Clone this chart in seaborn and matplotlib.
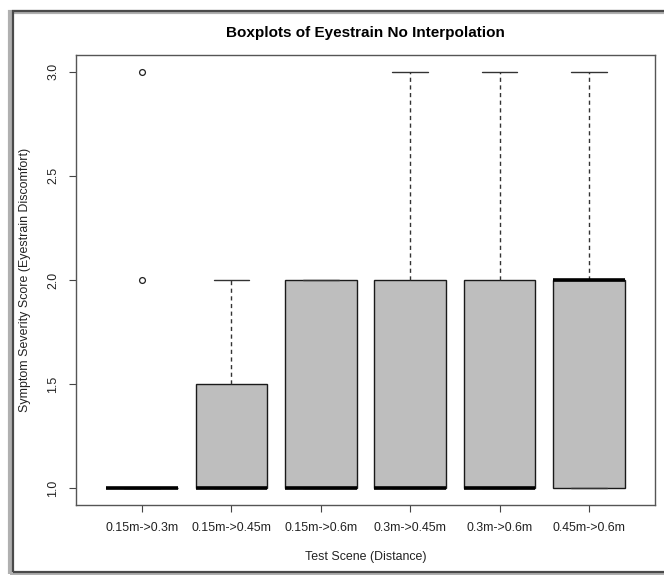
import matplotlib
matplotlib.use("Agg")
import matplotlib.pyplot as plt
from matplotlib.patches import Rectangle
import pandas as pd
import seaborn as sns

# Eyestrain symptom scores per test scene (distance change)
scenes = ["0.15m->0.3m", "0.15m->0.45m", "0.15m->0.6m",
          "0.3m->0.45m", "0.3m->0.6m", "0.45m->0.6m"]
scores_015_03 = [1, 1, 1, 1, 1, 1, 1, 1, 1, 1, 1, 1, 1, 2, 3]
scores_015_045 = [1, 1, 1, 1, 1, 1, 1, 1, 1, 1, 1, 2, 2, 2, 2]
scores_015_06 = [1, 1, 1, 1, 1, 1, 1, 1, 1, 2, 2, 2, 2, 2, 2]
scores_03_045 = [1, 1, 1, 1, 1, 1, 1, 1, 1, 2, 2, 2, 2, 2, 3]
scores_03_06 = [1, 1, 1, 1, 1, 1, 1, 1, 2, 2, 2, 2, 2, 3, 3]
scores_045_06 = [1, 1, 1, 1, 1, 1, 2, 2, 2, 2, 2, 2, 2, 3, 3]
y_ticks = [1.0, 1.5, 2.0, 2.5, 3.0]

groups = [scores_015_03, scores_015_045, scores_015_06,
          scores_03_045, scores_03_06, scores_045_06]
df = pd.DataFrame({
    "scene": [s for s, g in zip(scenes, groups) for _ in g],
    "score": [v for g in groups for v in g],
})

sns.set_style("white")
plt.rcParams["font.family"] = ["Liberation Sans", "DejaVu Sans"]

W, H = 664, 575
fig = plt.figure(figsize=(W / 100, H / 100), dpi=100)
fig.patch.set_facecolor("white")
ax = fig.add_axes([76 / W, 70 / H, 579 / W, 450 / H])

sns.boxplot(
    data=df, x="scene", y="score", order=scenes, ax=ax,
    color="#BEBEBE", linecolor="#1a1a1a", linewidth=1.0, width=0.8,
    whis=1.5, saturation=1,
    medianprops=dict(color="black", linewidth=2.6, solid_capstyle="butt"),
    whiskerprops=dict(linestyle=(0, (3, 2.5)), color="#333333", linewidth=1.0),
    capprops=dict(color="#333333", linewidth=1.0),
    flierprops=dict(marker="o", markerfacecolor="none",
                    markeredgecolor="#222222", markersize=4.2,
                    markeredgewidth=0.9),
)

ax.set_xlim(0.26 - 1, 6.74 - 1)
ax.set_ylim(0.92, 3.08)

ax.set_yticks(y_ticks)
ax.set_yticklabels([f"{t:.1f}" for t in y_ticks], rotation=90, va="center")
ax.tick_params(axis="both", which="both", direction="out", length=5,
               width=0.8, color="#444444", labelsize=8.9,
               labelcolor="#222222", left=True, bottom=True)
ax.tick_params(axis="y", pad=7)
ax.tick_params(axis="x", pad=7)

for sp in ax.spines.values():
    sp.set_visible(True)
    sp.set_color("#555555")
    sp.set_linewidth(1.0)

ax.set_xlabel("Test Scene (Distance)", fontsize=8.9, color="#222222")
ax.xaxis.set_label_coords(0.5, -(557 - 505) / 450)
ax.xaxis.label.set_va("center")
ax.set_ylabel("Symptom Severity Score (Eyestrain Discomfort)",
              fontsize=8.9, color="#222222")
ax.yaxis.set_label_coords(-(76 - 25) / 579, 0.5)
ax.yaxis.label.set_va("center")

fig.text(365.5 / W, 1 - 33 / H, "Boxplots of Eyestrain No Interpolation",
         ha="center", va="center", fontsize=11, fontweight="bold",
         color="black")

# Window frame around the figure
fig.add_artist(Rectangle((10 / W, 1 / H), 1.2, (571 - 9) / H,
                         transform=fig.transFigure, fill=False,
                         edgecolor="#b0b0b0", linewidth=3.0))
fig.add_artist(Rectangle((13 / W, 3 / H), 1.2, (568 - 7) / H,
                         transform=fig.transFigure, fill=False,
                         edgecolor="#4a4a4a", linewidth=1.6))

fig.savefig("out.png", dpi=100)
